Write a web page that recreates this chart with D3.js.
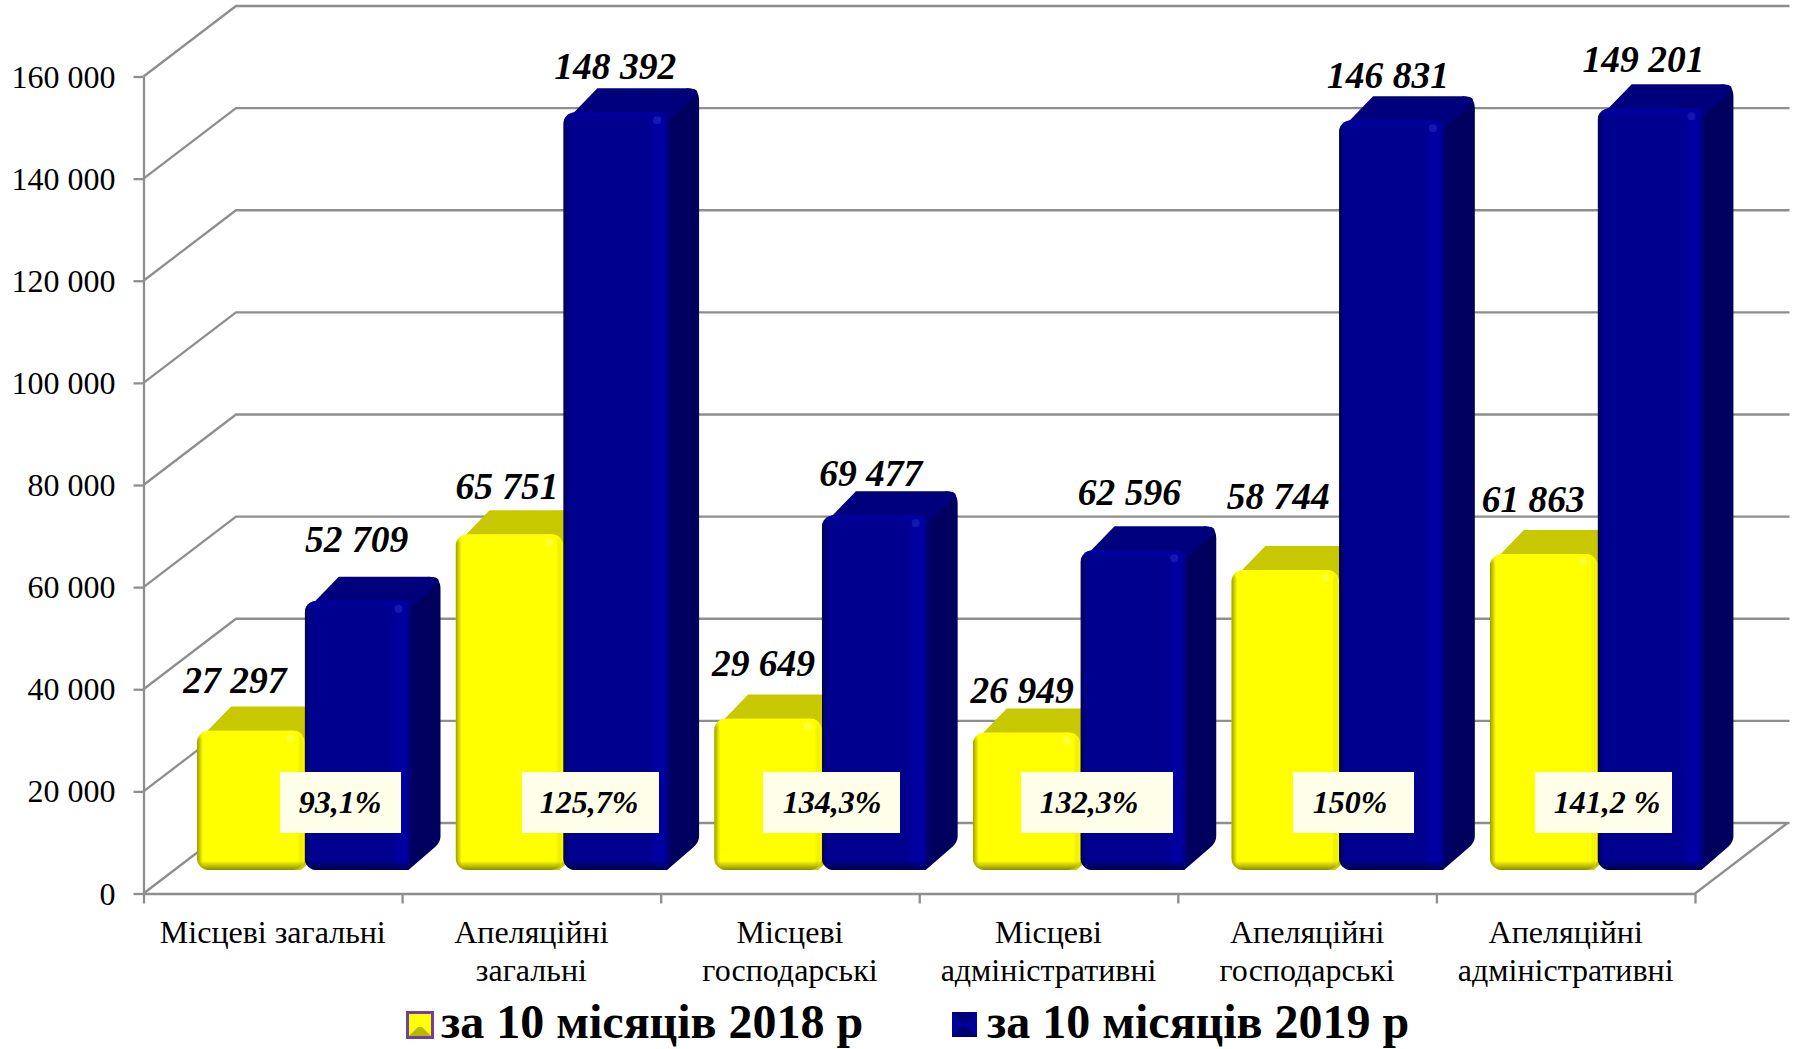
<!DOCTYPE html>
<html><head><meta charset="utf-8">
<script src="https://cdn.jsdelivr.net/npm/d3@7/dist/d3.min.js"></script>
<style>html,body{margin:0;padding:0;background:#fff;overflow:hidden}svg{display:block}text{font-family:"Liberation Serif",serif;fill:#000}</style>
</head><body><svg id="c" width="1797" height="1049"></svg>
<script>
const categories=[["Місцеві загальні"],["Апеляційні","загальні"],["Місцеві","господарські"],["Місцеві","адміністративні"],["Апеляційні","господарські"],["Апеляційні","адміністративні"]];
const values2018=[27297,65751,29649,26949,58744,61863];
const values2019=[52709,148392,69477,62596,146831,149201];
const percents=["93,1%","125,7%","134,3%","132,3%","150%","141,2 %"];
const seriesNames=["за 10 місяців 2018 р","за 10 місяців 2019 р"];
const yTicks=[0,20000,40000,60000,80000,100000,120000,140000,160000];

// layout constants
const W=[143.5,1695], Y0=893.5, Y1=76.5, D={x:92.5,y:-70.5}, barDepth={x:28,y:-24}, barFloor=-23.5, R=12;
const boxes=[[280,401,340],[522,659,589],[763,900,832],[1021,1173,1089],[1293,1414,1350],[1535,1672,1607]];
const labelDx=[[-16,-2],[-2.5,-2],[-4.5,-5],[-4.5,-5],[-7,-5],[-10.5,-8]];
const labelDy=[[38,49],[35,33],[43,29],[29,45],[61,32],[42,36]];

const svg=d3.select("#c"), defs=svg.append("defs");
const y=d3.scaleLinear().domain([0,160000]).range([Y0,Y1]);
const x=d3.scaleBand().domain(d3.range(6)).range(W);
const xs=d3.scaleBand().domain([0,1]).range([53.5,269]);
const fmt=v=>d3.format(",")(v).replace(/,/g," ");
const grey="#8e8e8e";

// walls
const g=svg.append("g").attr("fill","none").attr("stroke",grey).attr("stroke-width",2.3);
g.selectAll(".gl").data(yTicks).join("path").attr("d",v=>`M${W[0]},${y(v)}L${W[0]+D.x},${y(v)+D.y}H${W[1]+D.x+2}`);
g.append("path").attr("d",`M${W[1]},${Y0}L${W[1]+D.x},${Y0+D.y}`);

// axes
const ay=svg.append("g").attr("transform",`translate(${W[0]},0)`).call(d3.axisLeft(y).tickValues(yTicks).tickFormat(fmt).tickSize(10).tickSizeOuter(0).tickPadding(18));
ay.selectAll("text").attr("font-size",32).style("font-family",'"Liberation Serif",serif').attr("dy","0.33em");
const ax=svg.append("g").attr("transform",`translate(0,${Y0})`).call(d3.axisBottom(d3.scaleLinear().domain([0,6]).range(W)).tickValues(d3.range(7)).tickFormat("").tickSize(10).tickSizeOuter(0));
[ay,ax].forEach(a=>{a.selectAll("line,path").attr("stroke",grey).attr("stroke-width",2.3)});

// gradients
function grad(id,x2,y2,stops){const l=defs.append("linearGradient").attr("id",id).attr("x1",0).attr("y1",0).attr("x2",x2).attr("y2",y2);
 stops.forEach(s=>l.append("stop").attr("offset",s[0]).attr("stop-color",s[1]).attr("stop-opacity",s[2]));}
const pal=[
 {front:"#ffff00",top:"#c8c800",side:"#c8c800",edge:"#8a8a00",hi:"#ffff88",lite:"#ffff00"},
 {front:"#00008e",top:"#00007c",side:"#00005e",edge:"#00004a",hi:"#3a3ac8",lite:"#0000a2"}];
pal.forEach((p,i)=>{
 grad("l"+i,1,0,[[0,p.edge,.85],[1,p.edge,0]]);
 grad("r"+i,1,0,[[0,p.lite,0],[.45,p.lite,1],[.7,p.lite,1],[1,p.side,i?1:0]]);
 grad("t"+i,0,1,[[0,p.lite,1],[1,p.lite,0]]);
 grad("b"+i,0,1,[[0,p.edge,0],[1,p.edge,1]]);
 grad("s"+i,1,0,[[0,p.side,1],[1,p.side,1]]);
});

// bars
const bars=svg.append("g");
categories.forEach((c,ci)=>{[values2018,values2019].forEach((vals,si)=>{
 const p=pal[si], X0=x(ci)+xs(si), w=xs.bandwidth(), X1=X0+w, T=y(vals[ci])+barFloor, B=Y0+barFloor, dx=barDepth.x, dy=barDepth.y, b=bars.append("g");
 // side face
 b.append("path").attr("fill",`url(#s${si})`).attr("d",`M${X1-16},${T+6}L${X1+dx-R},${T+dy}Q${X1+dx},${T+dy} ${X1+dx},${T+dy+R}V${B+dy*1.4}Q${X1+dx},${B+dy*1.4+6} ${X1+dx-6},${B+dy*1.4+11}L${X1-4},${B}H${X1-16}Z`);
 // top face
 b.append("path").attr("fill",p.top).attr("d",`M${X0+4},${T+7}L${X0+dx+6},${T+dy}H${X1+dx-R}Q${X1+dx},${T+dy} ${X1+dx-2},${T+dy+6}L${X1},${T+6}Z`);
 // front face
 const id=`f${ci}_${si}`;
 defs.append("clipPath").attr("id",id).append("rect").attr("x",X0).attr("y",T).attr("width",w).attr("height",B-T).attr("rx",R);
 const f=b.append("g").attr("clip-path",`url(#${id})`);
 const rect=(xx,yy,ww,hh,fill)=>f.append("rect").attr("x",xx).attr("y",yy).attr("width",ww).attr("height",hh).attr("fill",fill);
 rect(X0,T,w,B-T,p.front);
 rect(X1-24,T,24,B-T,`url(#r${si})`);
 rect(X0,T,6,B-T,`url(#l${si})`);
 rect(X0,T,w,9,`url(#t${si})`);
 rect(X0,B-9,w,9,`url(#b${si})`);
 f.append("circle").attr("cx",X1-14).attr("cy",T+8).attr("r",4).attr("fill",p.hi).attr("opacity",.4);
});});

// value labels
const lab=svg.append("g").attr("font-size",37.5).attr("font-weight","bold").attr("font-style","italic").attr("text-anchor","middle");
categories.forEach((c,ci)=>{[values2018,values2019].forEach((vals,si)=>{
 lab.append("text").attr("x",x(ci)+xs(si)+xs.bandwidth()/2+labelDx[ci][si]).attr("y",y(vals[ci])+barFloor-labelDy[ci][si]).text(fmt(vals[ci]));
});});

// percent boxes
percents.forEach((t,i)=>{
 svg.append("rect").attr("x",boxes[i][0]).attr("y",772).attr("width",boxes[i][1]-boxes[i][0]).attr("height",61).attr("fill","#ffffe9");
 svg.append("text").attr("x",boxes[i][2]).attr("y",813).attr("text-anchor","middle").attr("font-size",32).attr("font-weight","bold").attr("font-style","italic").text(t);
});

// category labels
categories.forEach((lines,i)=>{
 const t=svg.append("text").attr("text-anchor","middle").attr("font-size",32);
 lines.forEach((s,k)=>t.append("tspan").attr("x",x(i)+x.bandwidth()/2).attr("y",943+k*38).text(s));
});

// legend
function marker(x0,y0,s,cols,stroke){
 const x1=x0+s,y1=y0+s,m=s*.42;
 const q=svg.append("g");
 q.append("rect").attr("x",x0).attr("y",y0).attr("width",s).attr("height",s).attr("fill",cols[1]);
 q.append("path").attr("fill",cols[0]).attr("d",`M${x0},${y0}H${x1}L${x0+s/2},${y0+s/2}Z`);
 q.append("path").attr("fill",cols[2]).attr("d",`M${x0},${y1}H${x1}L${x1-m},${y1-m}H${x0+m}Z`);
 if(stroke)q.append("rect").attr("x",x0).attr("y",y0).attr("width",s).attr("height",s).attr("fill","none").attr("stroke",stroke).attr("stroke-width",3);
}
marker(407.5,1012.5,25,["#ffff00","#ffff00","#b8b800"],"#7040a0");
marker(952,1012,25,["#00007c","#00009a","#000070"],null);
[441,987].forEach((xx,i)=>svg.append("text").attr("x",xx).attr("y",1038).attr("font-size",48).attr("font-weight","bold").text(seriesNames[i]));
</script></body></html>
